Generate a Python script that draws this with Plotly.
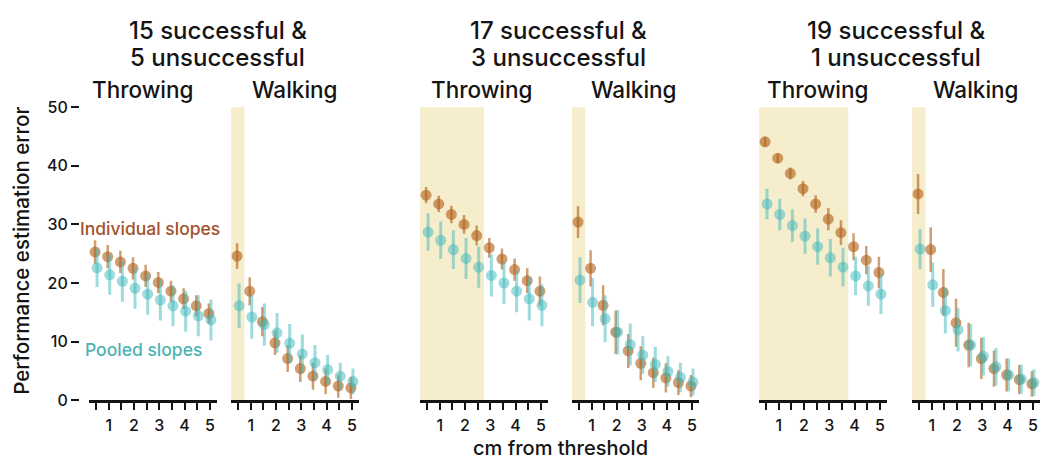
import plotly.graph_objects as go

# distance from threshold (cm), one value per bin
distance = [0.5, 1.0, 1.5, 2.0, 2.5, 3.0, 3.5, 4.0, 4.5, 5.0]

# condition labels
groups = ["15 successful &", "17 successful &", "19 successful &"]
groups_line2 = ["5 unsuccessful", "3 unsuccessful", "1 unsuccessful"]
tasks = ["Throwing", "Walking"]

# Individual slopes: mean and error, per panel (group x task)
indiv_mean = [
    [25.3, 24.5, 23.6, 22.5, 21.2, 20.1, 18.6, 17.3, 16.1, 14.8],
    [24.6, 18.6, 13.4, 9.8, 7.1, 5.4, 4.1, 3.2, 2.4, 2.1],
    [35.0, 33.5, 31.7, 30.0, 28.1, 26.0, 24.1, 22.3, 20.4, 18.6],
    [30.4, 22.5, 16.2, 11.6, 8.4, 6.3, 4.7, 3.8, 3.0, 2.4],
    [44.1, 41.3, 38.7, 36.1, 33.5, 30.9, 28.6, 26.2, 23.9, 21.8],
    [35.2, 25.7, 18.4, 13.2, 9.4, 7.1, 5.4, 4.3, 3.5, 2.8],
]
indiv_err = [
    [2.0, 2.0, 1.9, 1.9, 1.9, 1.8, 1.8, 1.8, 1.8, 1.7],
    [2.2, 2.4, 2.5, 2.1, 2.3, 2.3, 2.3, 2.2, 2.0, 1.9],
    [1.4, 1.4, 1.5, 1.6, 1.7, 1.7, 1.8, 1.9, 2.1, 2.5],
    [2.7, 3.1, 3.4, 3.7, 2.9, 2.9, 2.6, 2.5, 2.1, 1.9],
    [0.8, 0.8, 1.0, 1.3, 1.5, 1.9, 2.1, 2.3, 2.4, 2.7],
    [3.4, 3.8, 4.0, 4.1, 3.8, 3.5, 3.1, 2.8, 2.5, 2.2],
]

# Pooled slopes: mean and error, per panel
pooled_mean = [
    [22.6, 21.4, 20.3, 19.1, 18.1, 17.1, 16.1, 15.2, 14.4, 13.7],
    [16.1, 14.2, 12.9, 11.5, 9.7, 7.9, 6.4, 5.2, 4.1, 3.2],
    [28.7, 27.3, 25.7, 24.2, 22.7, 21.3, 20.0, 18.6, 17.3, 16.2],
    [20.5, 16.7, 13.9, 11.6, 9.5, 7.7, 6.1, 4.9, 3.9, 3.1],
    [33.5, 31.7, 29.8, 28.0, 26.2, 24.3, 22.7, 21.2, 19.5, 18.1],
    [25.8, 19.7, 15.3, 12.0, 9.4, 7.5, 5.7, 4.3, 3.6, 3.0],
]
pooled_err = [
    [3.3, 3.4, 3.5, 3.5, 3.5, 3.5, 3.5, 3.5, 3.5, 3.5],
    [3.8, 3.7, 3.6, 3.4, 3.3, 3.3, 3.0, 2.5, 2.3, 2.2],
    [3.2, 3.2, 3.3, 3.5, 3.5, 3.6, 3.6, 3.6, 3.7, 3.6],
    [3.9, 4.1, 4.0, 3.8, 3.6, 3.2, 3.0, 2.6, 2.5, 2.3],
    [2.6, 2.7, 2.8, 3.0, 3.1, 3.2, 3.3, 3.3, 3.4, 3.4],
    [3.4, 3.8, 3.9, 3.7, 3.6, 3.3, 3.2, 2.8, 2.5, 2.3],
]

# upper edge of the highlighted region in each panel (None = no highlight)
highlight_end = [None, 0.75, 2.75, 0.75, 3.75, 0.75]

x_ticks = [0.5, 1, 1.5, 2, 2.5, 3, 3.5, 4, 4.5, 5]
x_ticktext = ["", "1", "", "2", "", "3", "", "4", "", "5"]
y_ticks = [0, 10, 20, 30, 40, 50]

W, H = 1044, 468
X_RANGE = [0.22, 5.28]
Y_RANGE = [0, 50.5]
panel_px = [(89, 217), (231, 359), (420, 548), (572, 699), (759, 887), (912, 1040)]
plot_bottom_px, plot_top_px = 408, 101

FONT = "Inter, Liberation Sans, Arial, sans-serif"
WEIGHT = 500
INK = "#141414"
INDIV_COL = "rgba(178, 98, 28, 0.62)"
POOLED_COL = "rgba(62, 184, 188, 0.50)"
INDIV_TXT = "#A4502A"
POOLED_TXT = "#4BB3B3"
SHADE = "#F6EDCD"
DODGE = 0.04


def xp(px):
    return px / W


def yp(py):
    return 1 - py / H


def label(text, x, y, size, color=INK, xanchor="center", angle=0):
    return dict(text=text, x=xp(x), y=yp(y), xref="paper", yref="paper",
                showarrow=False, xanchor=xanchor, yanchor="middle",
                textangle=angle, borderpad=0,
                font=dict(size=size, family=FONT, color=color, weight=WEIGHT))


fig = go.Figure()
layout = dict(
    width=W, height=H,
    margin=dict(l=0, r=0, t=0, b=0),
    paper_bgcolor="white", plot_bgcolor="rgba(0,0,0,0)",
    showlegend=False,
    font=dict(family=FONT, color=INK),
)

shapes = []
annotations = []

for i, (x0, x1) in enumerate(panel_px):
    n = "" if i == 0 else str(i + 1)
    xa, ya = "x" + n, "y" + n

    layout["xaxis" + n] = dict(
        domain=[xp(x0), xp(x1)], range=X_RANGE, anchor=ya,
        showgrid=False, zeroline=False,
        showline=True, linecolor=INK, linewidth=2.5,
        ticks="outside", ticklen=7, tickwidth=2, tickcolor=INK,
        tickvals=x_ticks, ticktext=x_ticktext, ticklabelstandoff=2,
        tickfont=dict(size=16, family=FONT, color=INK, weight=WEIGHT),
        fixedrange=True,
    )
    ydict = dict(
        domain=[yp(plot_bottom_px), yp(plot_top_px)], range=Y_RANGE,
        showgrid=False, zeroline=False, showline=False, fixedrange=True,
    )
    if i == 0:
        ydict.update(
            anchor="free", position=xp(79),
            ticks="outside", ticklen=8, tickwidth=2, tickcolor=INK,
            tickvals=y_ticks,
            tickfont=dict(size=16, family=FONT, color=INK, weight=WEIGHT),
        )
    else:
        ydict.update(anchor=xa, matches="y", showticklabels=False, ticks="")
    layout["yaxis" + n] = ydict

    if highlight_end[i] is not None:
        shapes.append(dict(
            type="rect", xref=xa, yref=ya, layer="below",
            x0=X_RANGE[0], x1=highlight_end[i], y0=0, y1=50,
            fillcolor=SHADE, line=dict(width=0),
        ))

    fig.add_trace(go.Scatter(
        x=[d - DODGE for d in distance], y=indiv_mean[i],
        mode="markers", xaxis=xa, yaxis=ya, cliponaxis=False,
        marker=dict(size=11, color=INDIV_COL, line=dict(width=0)),
        error_y=dict(type="data", array=indiv_err[i], color=INDIV_COL,
                     thickness=2.5, width=0),
        name="Individual slopes",
    ))
    fig.add_trace(go.Scatter(
        x=[d + DODGE for d in distance], y=pooled_mean[i],
        mode="markers", xaxis=xa, yaxis=ya, cliponaxis=False,
        marker=dict(size=11, color=POOLED_COL, line=dict(width=0)),
        error_y=dict(type="data", array=pooled_err[i], color=POOLED_COL,
                     thickness=3, width=0),
        name="Pooled slopes",
    ))

# condition titles and task labels
group_centers = [217.5, 558, 895.5]
task_centers = [(142.5, 294.5), (482, 634), (818, 975.5)]
for g in range(3):
    annotations.append(label(groups[g], group_centers[g], 24, 24))
    annotations.append(label(groups_line2[g], group_centers[g], 52.5, 24))
    for t in range(2):
        annotations.append(label(tasks[t], task_centers[g][t], 86, 22.5))

# series labels inside the first panel
annotations.append(label("Individual slopes", 79, 230, 17.5, INDIV_TXT, "left"))
annotations.append(label("Pooled slopes", 84, 355, 17.5, POOLED_TXT, "left"))

# axis titles
annotations.append(label("Performance estimation error", 22, 253, 20.5, angle=-90))
annotations.append(label("cm from threshold", 560, 457.5, 20))

layout["shapes"] = shapes
layout["annotations"] = annotations
fig.update_layout(**layout)

fig.write_html("out.html")
